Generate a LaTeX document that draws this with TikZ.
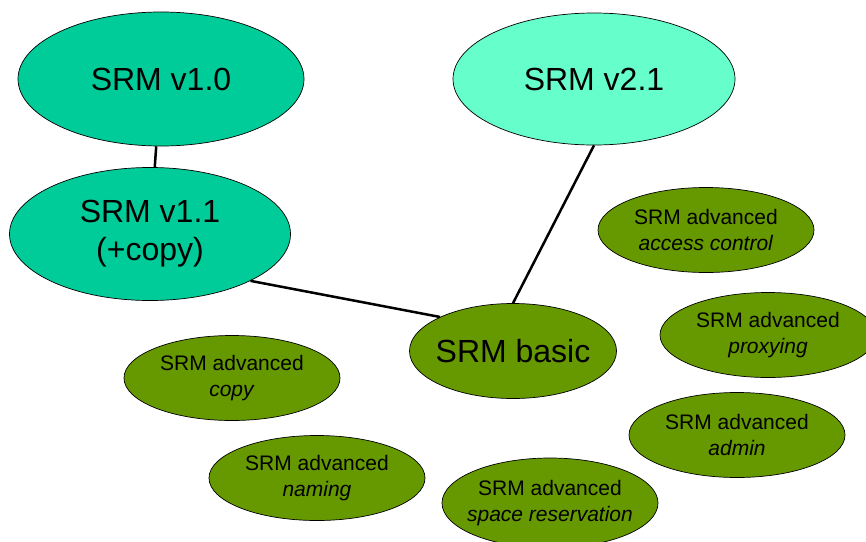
\documentclass[tikz,border=0pt]{standalone}
\usepackage{fontspec}
\setmainfont{Liberation Sans}
\usetikzlibrary{shapes.geometric}
\definecolor{srmteal}{HTML}{00CC99}
\definecolor{srmmint}{HTML}{66FFCC}
\definecolor{srmolive}{HTML}{669900}

\begin{document}
\begin{tikzpicture}[x=1pt, y=-1pt,
  srm/.style={ellipse, draw, line width=0.7pt, inner sep=0pt, align=center,
    font=\fontsize{32}{38}\selectfont},
  adv/.style={ellipse, draw, line width=0.7pt, inner sep=0pt, inner xsep=-15pt, align=center,
    fill=srmolive, minimum width=216pt, minimum height=85pt,
    font=\fontsize{21}{26}\selectfont},
  link/.style={line width=2.5pt}]
  \useasboundingbox (0,0) rectangle (866,541);
  \node[srm, fill=srmteal, minimum width=286pt, minimum height=134pt] (v10) at (161,79) {SRM v1.0};
  \node[srm, fill=srmmint, minimum width=282pt, minimum height=132pt] (v21) at (594,79) {SRM v2.1};
  \node[srm, fill=srmteal, minimum width=281pt, minimum height=133pt] (v11) at (150,234) {SRM v1.1\\(+copy)};
  \node[srm, fill=srmolive, inner xsep=-10pt, minimum width=207pt, minimum height=95pt] (basic) at (513,351) {SRM basic};
  \node[adv] (access) at (706,230) {SRM advanced\\\textit{access control}};
  \node[adv, minimum height=85pt] (proxy) at (768,335) {SRM advanced\\\textit{proxying}};
  \node[adv] (copy) at (232,378) {SRM advanced\\\textit{copy}};
  \node[adv] (admin) at (737,435) {SRM advanced\\\textit{admin}};
  \node[adv] (naming) at (317,478) {SRM advanced\\\textit{naming}};
  \node[adv, minimum height=90pt] (space) at (550,503) {SRM advanced\\\textit{space reservation}};
  \draw[link] (v10) -- (v11);
  \draw[link] (v11.-25) -- (basic.155);
  \draw[link] (v21.south) -- (basic.north);
\end{tikzpicture}
\end{document}
